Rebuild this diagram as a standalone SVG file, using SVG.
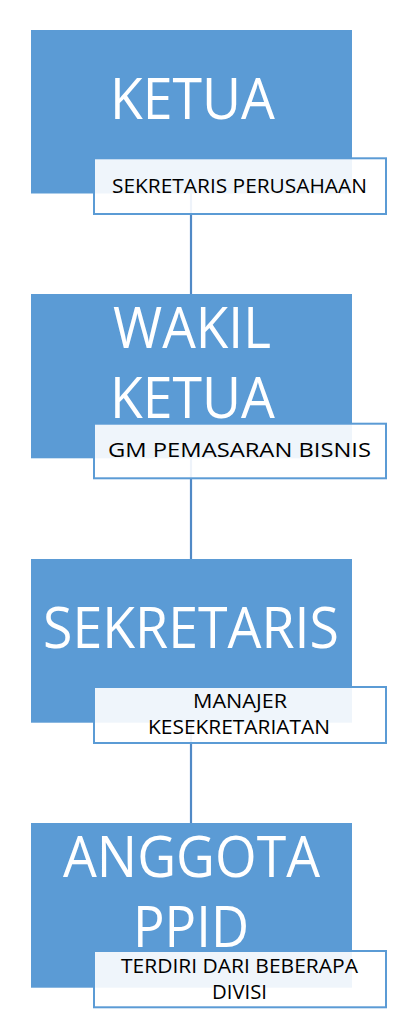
<svg xmlns="http://www.w3.org/2000/svg" width="416" height="1034" viewBox="0 0 416 1034">
<style>
.box{fill:#5B9BD5}
.lbl{fill:#FFFFFF;fill-opacity:0.9;stroke:#5B9BD5;stroke-width:2}
.big{font-family:"Open Sans","Liberation Sans",sans-serif;font-size:57px;fill:#FFFFFF;text-anchor:middle}
.small{font-family:"Open Sans","Liberation Sans",sans-serif;font-size:20px;fill:#000000;text-anchor:middle}
.con{stroke:#5089C6;stroke-width:2.2;fill:none}
</style>
<rect width="416" height="1034" fill="#FFFFFF"/>
<g id="connectors">
<line class="con" x1="191" y1="193" x2="191" y2="294"/>
<line class="con" x1="191" y1="458" x2="191" y2="559"/>
<line class="con" x1="191" y1="722" x2="191" y2="823"/>
</g>
<g id="ketua">
<rect class="box" x="31" y="30" width="321" height="163.5"/>
<text class="big" x="192.5" y="119" textLength="165" lengthAdjust="spacingAndGlyphs">KETUA</text>
<rect class="lbl" x="94" y="158.3" width="292" height="55.7"/>
<text class="small" x="239.5" y="193" textLength="255" lengthAdjust="spacingAndGlyphs">SEKRETARIS PERUSAHAAN</text>
</g>
<g id="wakil-ketua">
<rect class="box" x="31" y="294" width="321" height="164.3"/>
<text class="big" x="192" y="348" textLength="158" lengthAdjust="spacingAndGlyphs">WAKIL</text>
<text class="big" x="192.5" y="418" textLength="165" lengthAdjust="spacingAndGlyphs">KETUA</text>
<rect class="lbl" x="94" y="423.7" width="292" height="54.6"/>
<text class="small" x="239.5" y="457" textLength="263" lengthAdjust="spacingAndGlyphs">GM PEMASARAN BISNIS</text>
</g>
<g id="sekretaris">
<rect class="box" x="31" y="559" width="321" height="163.7"/>
<text class="big" x="191" y="648" textLength="296" lengthAdjust="spacingAndGlyphs">SEKRETARIS</text>
<rect class="lbl" x="94" y="687" width="292" height="56"/>
<text class="small" x="240" y="708" textLength="94" lengthAdjust="spacingAndGlyphs">MANAJER</text>
<text class="small" x="239" y="734" textLength="182" lengthAdjust="spacingAndGlyphs">KESEKRETARIATAN</text>
</g>
<g id="anggota-ppid">
<rect class="box" x="31" y="823" width="321" height="164.7"/>
<text class="big" x="191.5" y="877" textLength="257" lengthAdjust="spacingAndGlyphs">ANGGOTA</text>
<text class="big" x="191" y="947" textLength="116" lengthAdjust="spacingAndGlyphs">PPID</text>
<rect class="lbl" x="94" y="951" width="292" height="56.3"/>
<text class="small" x="239.5" y="973" textLength="237" lengthAdjust="spacingAndGlyphs">TERDIRI DARI BEBERAPA</text>
<text class="small" x="239.5" y="999" textLength="55" lengthAdjust="spacingAndGlyphs">DIVISI</text>
</g>
</svg>
